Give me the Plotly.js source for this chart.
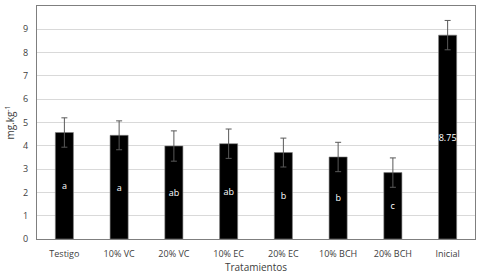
<!DOCTYPE html>
<html>
<head>
<meta charset="utf-8">
<script src="https://cdn.plot.ly/plotly-3.0.1.min.js"></script>
<style>html,body{margin:0;padding:0;background:#fff}#chart{width:483px;height:278px}</style>
</head>
<body>
<div id="chart"></div>
<script>
// Treatments and mean concentrations (mg.kg-1)
const tratamientos = ['Testigo', '10% VC', '20% VC', '10% EC', '20% EC', '10% BCH', '20% BCH', 'Inicial'];
const medias = [4.57, 4.45, 3.99, 4.09, 3.71, 3.52, 2.85, 8.75];
const errores = [0.63, 0.62, 0.65, 0.63, 0.62, 0.63, 0.63, 0.63];
// Significance groups shown inside the bars
const etiquetas = ['a', 'a', 'ab', 'ab', 'b', 'b', 'c', '8.75'];

const FONT = 'Open Sans, Liberation Sans, sans-serif';

const trace = {
  type: 'bar',
  x: tratamientos,
  y: medias,
  text: etiquetas,
  textposition: 'inside',
  insidetextanchor: 'middle',
  constraintext: 'none',
  textangle: 0,
  cliponaxis: false,
  textfont: {color: '#ffffff', size: 9, family: FONT},
  marker: {color: '#000000', line: {color: '#7f7f7f', width: 0.6}},
  error_y: {type: 'data', array: errores, visible: true, color: '#595959', thickness: 1, width: 3},
  hoverinfo: 'none'
};

const layout = {
  width: 483, height: 278,
  margin: {l: 37, r: 8, t: 6, b: 39},
  paper_bgcolor: '#ffffff',
  plot_bgcolor: '#ffffff',
  bargap: 0.67,
  showlegend: false,
  uniformtext: {mode: false},
  font: {family: FONT, size: 9, color: '#404040'},
  xaxis: {
    showline: true, linecolor: '#7f7f7f', linewidth: 1, mirror: true,
    ticks: 'outside', ticklen: 6, tickcolor: 'rgba(0,0,0,0)',
    tickfont: {size: 9, color: '#404040'},
    title: {text: 'Tratamientos', font: {size: 10, color: '#404040'}, standoff: 4}
  },
  yaxis: {
    range: [0, 10], dtick: 1,
    showline: true, linecolor: '#7f7f7f', linewidth: 1, mirror: true,
    gridcolor: '#d9d9d9', gridwidth: 1,
    zeroline: false,
    ticks: 'outside', ticklen: 6, tickcolor: 'rgba(0,0,0,0)',
    tickfont: {size: 9, color: '#404040'},
    title: {text: 'mg.kg<sup>-1</sup>', font: {size: 10, color: '#404040'}, standoff: 6}
  }
};

Plotly.newPlot('chart', [trace], layout, {displayModeBar: false, staticPlot: true});
</script>
</body>
</html>
